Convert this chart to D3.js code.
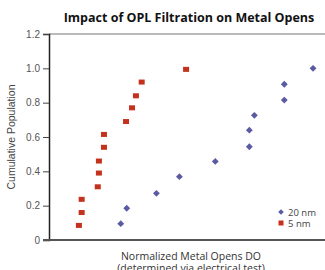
<!DOCTYPE html>
<html>
<head>
<meta charset="utf-8">
<script src="https://cdn.jsdelivr.net/npm/d3@7"></script>
<style>
  body { margin: 0; background: #fff; }
  svg { display: block; font-family: "Open Sans", "Noto Sans", sans-serif; }
</style>
</head>
<body>
<svg id="chart" width="325" height="270"></svg>
<script>
// 20 nm filter (diamonds)
var nm20X = [3.12, 3.38, 4.67, 5.67, 7.23, 8.71, 8.71, 8.93, 10.23, 10.23, 11.48];
var nm20Y = [0.095, 0.185, 0.272, 0.369, 0.458, 0.543, 0.64, 0.726, 0.815, 0.907, 1.0];
// 5 nm filter (squares)
var nm5X = [1.30, 1.42, 1.42, 2.12, 2.17, 2.17, 2.39, 2.39, 3.35, 3.61, 3.78, 4.03, 5.96];
var nm5Y = [0.085, 0.16, 0.237, 0.31, 0.39, 0.46, 0.54, 0.615, 0.69, 0.77, 0.84, 0.92, 0.994];
var yTicks = [0, 0.2, 0.4, 0.6, 0.8, 1.0, 1.2];
var seriesNames = ["20 nm", "5 nm"];
var colors = ["#5b5ba3", "#c4311d"];

var chart = d3.select("#chart");
var padLeft = 49, padRight = 325, padTop = 34, padBottom = 240;

var x = d3.scaleLinear().domain([0, 12]).range([padLeft, padRight]);
var y = d3.scaleLinear().domain([0, 1.2]).range([padBottom, padTop]);

// title
chart
  .append("text")
  .text("Impact of OPL Filtration on Metal Opens")
  .attr("x", 189)
  .attr("y", 22)
  .attr("text-anchor", "middle")
  .attr("font-size", 12.5)
  .attr("font-weight", "bold")
  .attr("fill", "#111");

// top border line
chart
  .append("line")
  .attr("x1", padLeft)
  .attr("x2", padRight)
  .attr("y1", padTop)
  .attr("y2", padTop)
  .attr("stroke", "#777")
  .attr("stroke-width", 1.2);

// y axis
var yAxis = chart
  .append("g")
  .attr("transform", "translate(" + padLeft + ",0)")
  .call(
    d3.axisLeft(y)
      .tickValues(yTicks)
      .tickSize(6)
      .tickPadding(3)
      .tickFormat(function (d) { return d === 0 ? "0" : d3.format(".1f")(d); })
  );
yAxis.select(".domain").attr("stroke", "#222").attr("stroke-width", 1.5);
yAxis.selectAll(".tick line").attr("stroke", "#444");
yAxis.selectAll(".tick text")
  .attr("fill", "#555")
  .attr("font-size", 10)
  .attr("font-family", "'Liberation Sans', Arial, sans-serif");

// x axis line
chart
  .append("line")
  .attr("x1", padLeft - 6)
  .attr("x2", padRight)
  .attr("y1", padBottom)
  .attr("y2", padBottom)
  .attr("stroke", "#555")
  .attr("stroke-width", 2);

// axis labels
chart
  .append("text")
  .text("Cumulative Population")
  .attr("transform", "translate(15," + (padBottom + padTop) / 2 + ") rotate(-90)")
  .attr("text-anchor", "middle")
  .attr("font-size", 10.5)
  .attr("fill", "#444")
  .attr("font-family", "'Liberation Sans', Arial, sans-serif");

chart
  .append("text")
  .attr("x", 191)
  .attr("y", 260)
  .attr("text-anchor", "middle")
  .attr("font-size", 10.5)
  .attr("fill", "#333")
  .selectAll("tspan")
  .data(["Normalized Metal Opens DO", "(determined via electrical test)"])
  .enter()
  .append("tspan")
  .attr("x", 191)
  .attr("dy", function (d, i) { return i === 0 ? 0 : 12; })
  .text(function (d) { return d; });

// points
var diamond = d3.symbol().type(d3.symbolDiamond2).size(30);

chart
  .append("g")
  .selectAll("path")
  .data(nm20X)
  .enter()
  .append("path")
  .attr("d", diamond)
  .attr("transform", function (d, i) {
    return "translate(" + x(d) + "," + y(nm20Y[i]) + ")";
  })
  .attr("fill", colors[0]);

chart
  .append("g")
  .selectAll("rect")
  .data(nm5X)
  .enter()
  .append("rect")
  .attr("x", function (d) { return x(d) - 3; })
  .attr("y", function (d, i) { return y(nm5Y[i]) - 2.5; })
  .attr("width", 6)
  .attr("height", 5)
  .attr("fill", colors[1]);

// legend
var legend = chart.append("g").attr("transform", "translate(281,212)");
legend
  .append("path")
  .attr("d", d3.symbol().type(d3.symbolDiamond2).size(20))
  .attr("fill", colors[0]);
legend
  .append("rect")
  .attr("x", -2.5)
  .attr("y", 11 - 2.5)
  .attr("width", 5)
  .attr("height", 5)
  .attr("fill", colors[1]);
legend
  .selectAll("text")
  .data(seriesNames)
  .enter()
  .append("text")
  .attr("x", 7)
  .attr("y", function (d, i) { return i * 11 + 3.5; })
  .attr("font-size", 9.5)
  .attr("fill", "#444")
  .text(function (d) { return d; });
</script>
</body>
</html>
